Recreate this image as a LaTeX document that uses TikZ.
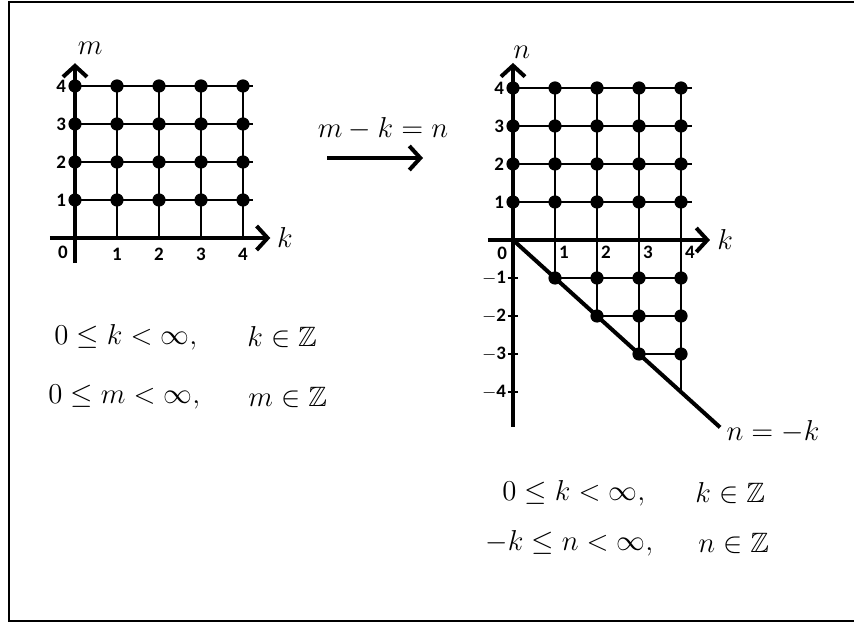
\documentclass[tikz,border=0pt]{standalone}
\usepackage{amssymb}
\usepackage{fontspec}
\newfontfamily\tickfont{Carlito}
\usetikzlibrary{arrows.meta}
\tikzset{
  axisline/.style={line width=2pt,-{Straight Barb[length=5.5pt,width=12pt]}},
  gridline/.style={line width=0.7pt},
  diagline/.style={line width=2pt},
  dot/.style={circle,fill=black,inner sep=0pt,minimum size=6.6pt},
  ticklab/.style={font=\tickfont\bfseries\fontsize{9.5}{11}\selectfont,inner sep=0pt},
  mathlab/.style={font=\fontsize{14}{17}\selectfont,inner sep=0pt},
  eqn/.style={font=\fontsize{14}{17}\selectfont,inner sep=0pt,anchor=west},
}
\begin{document}
\begin{tikzpicture}[x=0.5pt,y=-0.5pt]
\useasboundingbox (0,0) rectangle (854,624);
\draw[line width=1pt] (858,2) -- (9,2) -- (9,621) -- (858,621);

% ---------- left graph ----------
\begin{scope}[shift={(75,238)},x=21pt,y=19pt]
  \foreach \j in {1,...,4} \draw[gridline] (0,\j) -- (4.24,\j);
  \foreach \i in {1,...,4} \draw[gridline] (\i,0) -- (\i,4);
  \coordinate (L0) at (-0.6,0); \coordinate (Lk) at (4.65,0);
  \coordinate (Lb) at (0,-0.66); \coordinate (Lm) at (0,4.6);
  \draw[axisline] (L0) -- (Lk);
  \draw[axisline] (Lb) -- (Lm);
  \foreach \i in {0,...,4}
    \foreach \j in {1,...,4}
      \node[dot] (ld\i\j) at (\i,\j) {};
  \node[ticklab] (lx0) at (-0.29,-0.37) {0};
  \foreach \i in {1,...,4} \node[ticklab] (lx\i) at (\i,-0.44) {\i};
  \foreach \j in {1,...,4} \node[ticklab] (ly\j) at (-0.33,\j) {\j};
  \node[mathlab] (mlab) at (0.36,5.0) {$m$};
  \node[mathlab] (klabL) at (5.0,0) {$k$};
\end{scope}

% ---------- middle arrow ----------
\node[mathlab] (map) at (383,129) {$m-k=n$};
\coordinate (a1) at (327,158); \coordinate (a2) at (423,158);
\draw[axisline] (a1) -- (a2);

% ---------- right graph ----------
\begin{scope}[shift={(513,240)},x=21pt,y=19pt]
  \foreach \j in {1,...,4} \draw[gridline] (0,\j) -- (4.26,\j);
  \foreach \j in {1,...,3} \draw[gridline] (\j,-\j) -- (4,-\j);
  \foreach \i in {1,...,4} \draw[gridline] (\i,-\i) -- (\i,4);
  \foreach \j in {1,...,4} \draw[gridline] (-0.13,-\j) -- (0.13,-\j);
  \coordinate (R0) at (-0.6,0); \coordinate (Rk) at (4.69,0);
  \coordinate (Rb) at (0,-4.92); \coordinate (Rn) at (0,4.66);
  \coordinate (Ro) at (0,0); \coordinate (Rd) at (4.93,-4.93);
  \draw[axisline] (R0) -- (Rk);
  \draw[axisline,-] (Rb) -- (0,0);
  \draw[axisline] (0,0) -- (Rn);
  \draw[diagline] (Ro) -- (Rd);
  \foreach \i in {0,...,4}
    \foreach \j in {1,...,4}
      \node[dot] (rd\i\j) at (\i,\j) {};
  \foreach \i/\j in {1/1,2/1,3/1,4/1,2/2,3/2,4/2,3/3,4/3}
    \node[dot] (rn\i\j) at (\i,-\j) {};
  \node[ticklab] (rx0) at (-0.26,-0.34) {0};
  \foreach \i in {1,...,4} \node[ticklab] (rx\i) at (\i+0.21,-0.32) {\i};
  \foreach \j in {1,...,4} \node[ticklab] (ry\j) at (-0.33,\j) {\j};
  \foreach \j in {1,...,4} \node[ticklab] (rny\j) at (-0.45,-\j) {$-$\j};
  \node[mathlab] (nlab) at (0.21,4.95) {$n$};
  \node[mathlab] (klabR) at (5.05,0) {$k$};
\end{scope}
\node[mathlab] (diaglab) at (773,432) {$n=-k$};

% ---------- equations ----------
\node[eqn] (e1) at (54,337) {$0\le k<\infty,$};
\node[eqn] (e2) at (247,337) {$k\in\mathbb{Z}$};
\node[eqn] (e3) at (48,397) {$0\le m<\infty,$};
\node[eqn] (e4) at (248,397) {$m\in\mathbb{Z}$};
\node[eqn] (e5) at (502,493) {$0\le k<\infty,$};
\node[eqn] (e6) at (695,493) {$k\in\mathbb{Z}$};
\node[eqn] (e7) at (485,543) {$-k\le n<\infty,$};
\node[eqn] (e8) at (698,543) {$n\in\mathbb{Z}$};
\end{tikzpicture}
\end{document}
